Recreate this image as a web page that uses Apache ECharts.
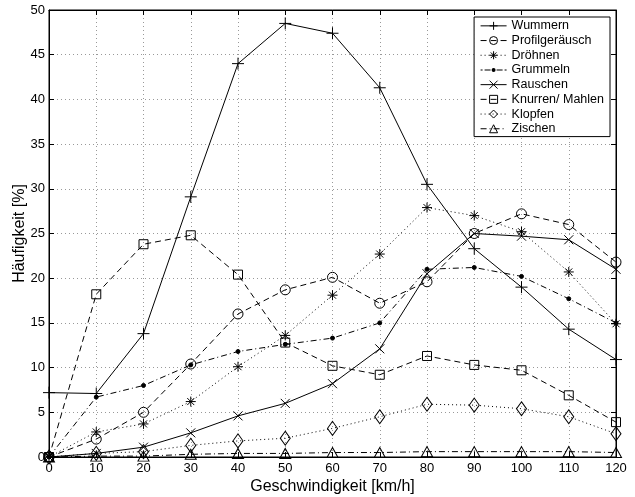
<!DOCTYPE html>
<html>
<head>
<meta charset="utf-8">
<script src="https://cdn.jsdelivr.net/npm/echarts@6/dist/echarts.min.js"></script>
<style>
  html, body { margin: 0; padding: 0; background: #fff; }
  #chart { width: 635px; height: 497px; }
</style>
</head>
<body>
<div id="chart"></div>
<script>
  const speeds = [0, 10, 20, 30, 40, 50, 60, 70, 80, 90, 100, 110, 120];

  const wummern = [7.2, 7.1, 13.8, 29.1, 44.0, 48.5, 47.4, 41.3, 30.5, 23.3, 19.0, 14.3, 10.9];
  const profilgeraeusch = [0, 2.0, 5.0, 10.4, 16.0, 18.7, 20.1, 17.2, 19.6, 25.0, 27.2, 26.0, 21.8];
  const droehnen = [0, 2.8, 3.7, 6.2, 10.1, 13.6, 18.1, 22.7, 27.9, 27.0, 25.2, 20.7, 14.9];
  const grummeln = [0, 6.7, 8.0, 10.3, 11.8, 12.6, 13.3, 15.0, 21.0, 21.2, 20.2, 17.7, 15.0];
  const rauschen = [0, 0.4, 1.1, 2.7, 4.6, 6.0, 8.2, 12.1, 20.5, 25.0, 24.7, 24.3, 21.0];
  const knurren = [0, 18.2, 23.8, 24.8, 20.4, 12.8, 10.2, 9.2, 11.3, 10.3, 9.7, 6.9, 3.9];
  const klopfen = [0, 0.4, 0.6, 1.3, 1.8, 2.1, 3.2, 4.5, 5.9, 5.8, 5.4, 4.5, 2.6];
  const zischen = [0, 0.1, 0.1, 0.3, 0.4, 0.4, 0.5, 0.5, 0.6, 0.6, 0.6, 0.6, 0.5];

  const FONT = 'Liberation Sans, Arial, Helvetica, sans-serif';
  const DASH = [6, 4];
  const DOT = [1, 3];
  const DASHDOT = [6, 3, 1, 3];

  const PLUS = 'path://M5,0L5,10M0,5L10,5';
  const STAR = 'path://M5,0L5,10M0,5L10,5M1.5,1.5L8.5,8.5M8.5,1.5L1.5,8.5';
  const CROSS = 'path://M0,0L10,10M10,0L0,10';
  // legend icon for the dash-dot line with a small dot (tiny corner squares fix the box)
  const GRUMMELN_ICON = 'path://M0,0h0.01v0.01h-0.01z M25.99,9.99h0.01v0.01h-0.01z ' +
    'M0,4.5h2v1h-2z M4,4.5h6v1h-6z M11,5a2,2 0 1,0 4,0a2,2 0 1,0 -4,0z M16,4.5h6v1h-6z M24,4.5h2v1h-2z';

  function makeSeries(name, values, dash, symbol, size, filled) {
    return {
      name,
      type: 'line',
      data: speeds.map((x, i) => [x, values[i]]),
      symbol,
      symbolSize: size,
      showAllSymbol: true,
      lineStyle: { color: '#000', width: 1, type: dash },
      itemStyle: {
        color: filled ? '#000' : 'rgba(0,0,0,0)',
        borderColor: '#000',
        borderWidth: 1
      },
      emphasis: { disabled: true },
      animation: false
    };
  }

  const series = [
    makeSeries('Wummern', wummern, 'solid', PLUS, 12, false),
    makeSeries('Profilgeräusch', profilgeraeusch, DASH, 'circle', 10, false),
    makeSeries('Dröhnen', droehnen, DOT, STAR, 10, false),
    makeSeries('Grummeln', grummeln, DASHDOT, 'circle', 4, true),
    makeSeries('Rauschen', rauschen, 'solid', CROSS, 9, false),
    makeSeries('Knurren/ Mahlen', knurren, DASH, 'rect', 9, false),
    makeSeries('Klopfen', klopfen, DOT, 'diamond', [10, 14], false),
    makeSeries('Zischen', zischen, DASHDOT, 'triangle', [11, 10], false)
  ];

  const legendItems = series.map((s) => s.name === 'Grummeln'
    ? { name: s.name, icon: GRUMMELN_ICON, itemStyle: { color: '#000', borderWidth: 0 } }
    : { name: s.name });

  const gridLine = { show: true, lineStyle: { color: '#999', width: 1, type: DOT } };
  const tick = { show: true, inside: true, length: 5, lineStyle: { color: '#000' } };
  const axisLine = { show: true, onZero: false, lineStyle: { color: '#000', width: 1 } };
  const label = { color: '#000', fontFamily: FONT, fontSize: 13 };

  const chart = echarts.init(document.getElementById('chart'), null, { renderer: 'canvas' });
  chart.setOption({
    animation: false,
    backgroundColor: '#fff',
    grid: {
      left: 49, right: 19, top: 10, bottom: 40,
      outerBoundsMode: 'none',
      containLabel: false,
      show: true, borderColor: '#000', borderWidth: 1
    },
    legend: {
      data: legendItems,
      right: 25,
      top: 17,
      orient: 'vertical',
      backgroundColor: '#fff',
      borderColor: '#000',
      borderWidth: 1,
      padding: [2, 6, 1, 6],
      itemWidth: 26,
      itemHeight: 10,
      itemGap: 1,
      selectedMode: false,
      lineStyle: { width: 1 },
      itemStyle: { borderWidth: 1 },
      textStyle: { color: '#000', fontFamily: FONT, fontSize: 12.5, lineHeight: 13.7 }
    },
    xAxis: [{
      type: 'value',
      min: 0,
      max: 120,
      interval: 10,
      name: 'Geschwindigkeit [km/h]',
      nameLocation: 'middle',
      nameGap: 22,
      nameMoveOverlap: false,
      nameTextStyle: { color: '#000', fontFamily: FONT, fontSize: 16 },
      axisLine,
      axisTick: tick,
      axisLabel: { ...label, margin: 5 },
      splitLine: gridLine
    }, {
      type: 'value',
      position: 'top',
      min: 0,
      max: 120,
      interval: 10,
      axisLine,
      axisTick: tick,
      axisLabel: { show: false },
      splitLine: { show: false }
    }],
    yAxis: [{
      type: 'value',
      min: 0,
      max: 50,
      interval: 5,
      name: 'Häufigkeit [%]',
      nameLocation: 'middle',
      nameGap: 21,
      nameMoveOverlap: false,
      nameTextStyle: { color: '#000', fontFamily: FONT, fontSize: 16 },
      axisLine,
      axisTick: tick,
      axisLabel: { ...label, margin: 4 },
      splitLine: gridLine
    }, {
      type: 'value',
      position: 'right',
      min: 0,
      max: 50,
      interval: 5,
      axisLine,
      axisTick: tick,
      axisLabel: { show: false },
      splitLine: { show: false }
    }],
    series
  });
</script>
</body>
</html>
